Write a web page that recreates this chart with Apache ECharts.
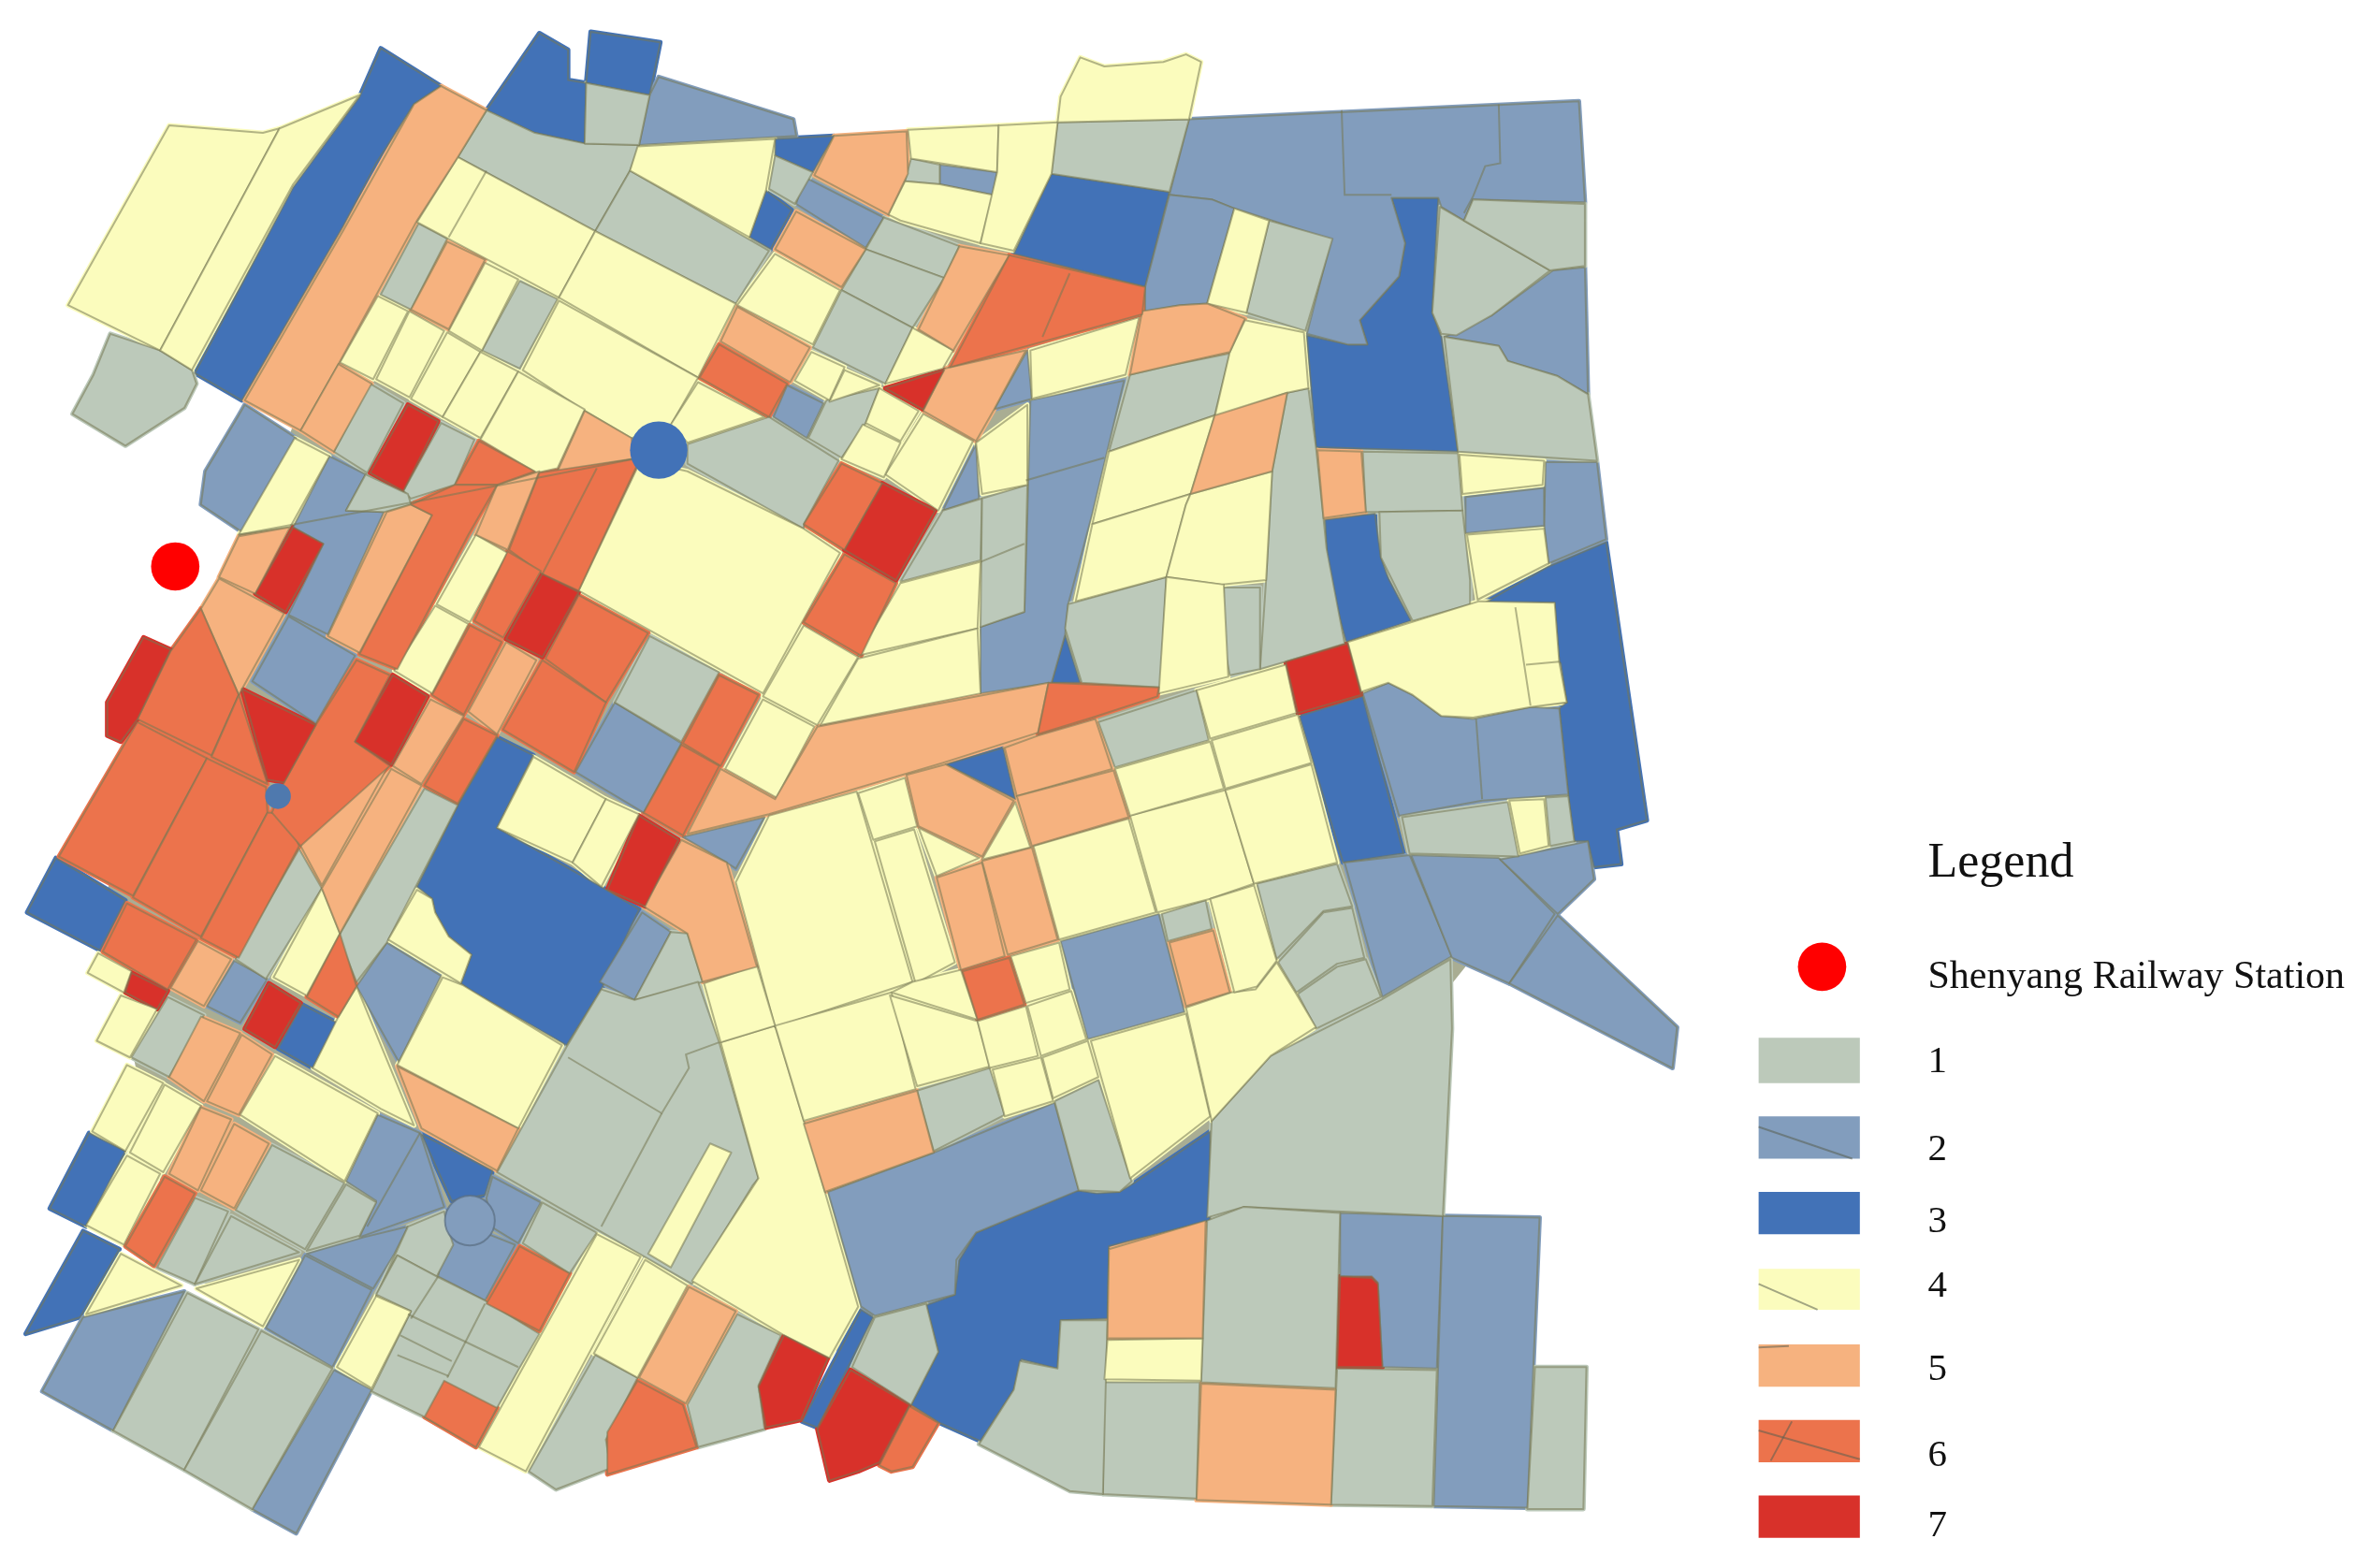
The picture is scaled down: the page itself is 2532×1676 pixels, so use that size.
<!DOCTYPE html>
<html>
<head>
<meta charset="utf-8">
<title>Shenyang Railway Station</title>
<script src="https://cdn.jsdelivr.net/npm/echarts@6/dist/echarts.min.js"></script>
<style>
  html, body { margin: 0; padding: 0; background: #fff; }
  #chart { width: 100vw; height: 100vh; filter: blur(0.7px); }
</style>
</head>
<body>
<div id="chart"></div>
<script>
// block outlines, flat x,y lists in map units, one list per class
const class3 = [
  [252,32,292,57,274,69,249,108,227,150,160,265,129,247,194,124,238,64],
  [357,22,376,33,376,53,388,55,387,95,354,88,322,73],
  [391,21,437,28,430,63,388,55],
  [513,92,552,90,538,114,513,103],
  [507,126,524,139,510,165,496,157],
  [696,115,774,127,758,190,671,168],
  [921,131,952,131,948,207,954,223,965,299,871,296,865,222,892,228,905,228,900,212,926,183,930,161],
  [877,344,910,340,914,369,919,383,934,411,891,425,879,381],
  [1063,359,1090,543,1070,549,1073,572,1055,574,1051,557,1042,557,1038,526,1032,469,1037,465,1032,438,1029,399,983,399,1025,375],
  [860,474,902,461,929,565,889,571],
  [329,488,353,500,329,548,398,587,423,602,398,655,375,692,312,656,305,651,312,632,297,620,288,604,286,595,276,587,303,533],
  [37,568,83,596,66,629,18,604],
  [184,694,200,665,223,677,207,707],
  [59,750,83,762,57,812,33,800],
  [55,815,79,827,53,872,17,883],
  [279,751,326,775,321,791,299,795],
  [696,452,705,420,715,452],
  [626,506,664,495,672,529],
  [570,867,578,872,541,945,531,941],
  [712,788,726,790,741,789,751,783,801,749,801,808,734,825,733,873,702,874,700,906,676,900,671,920,649,954,622,942,603,930,621,895,613,864,632,857,635,834,646,816]
];
const class2 = [
  [436,51,525,79,527,90,423,96,430,63],
  [532,117,585,144,573,164,527,135],
  [622,109,660,114,657,129,622,122],
  [787,79,1045,67,1049,134,975,132,969,146,954,137,952,131,921,131,930,161,926,183,900,212,905,228,892,228,865,221,881,159,842,146,817,138,802,132,774,129],
  [774,129,802,132,817,138,799,201,781,202,758,206,758,190],
  [682,265,744,252,723,340,707,400,705,420,696,452,649,459,649,415,678,405,680,340],
  [680,232,683,264,658,271],
  [646,294,648,330,624,338],
  [521,255,545,267,534,290,512,276],
  [1023,306,1057,306,1063,357,1025,373,1022,347],
  [970,329,1022,323,1022,348,970,353],
  [1028,179,1049,177,1051,261,1031,249,998,239,992,229,956,223,987,209],
  [902,459,919,452,935,460,954,474,975,476,1013,468,1032,469,1038,526,981,530,926,540],
  [890,571,933,566,961,633,915,660],
  [934,566,992,568,1029,605,999,651,961,634],
  [993,569,1051,557,1055,582,1031,605],
  [1031,606,1110,680,1107,707,999,651],
  [162,268,196,290,160,352,133,334,136,312,158,275],
  [218,302,242,314,229,338,254,339,217,420,191,407,214,360,194,349],
  [191,408,235,434,209,479,167,451],
  [407,465,451,492,426,538,381,511],
  [425,604,444,617,420,662,397,650],
  [452,554,506,541,487,575,481,571],
  [256,624,292,646,264,703,236,653],
  [155,636,177,648,159,677,137,666],
  [250,738,278,750,294,799,238,819,249,795,229,782],
  [326,779,358,796,343,823,325,812,322,793],
  [296,801,296,812,304,822,323,817,341,824,321,861,290,845],
  [241,819,270,812,261,830,247,853,203,830],
  [202,831,246,854,220,905,176,879],
  [122,855,75,947,28,921,55,872],
  [221,907,246,920,196,1015,167,999],
  [548,789,618,763,698,730,714,788,646,816,633,834,632,857,579,871,570,865],
  [702,623,767,605,784,670,720,688],
  [887,803,955,805,951,906,915,905,912,849,908,845,887,845],
  [955,805,1019,806,1011,998,949,997]
];
const class1 = [
  [73,221,106,232,127,245,130,254,122,270,83,295,48,274,62,248],
  [322,73,354,88,387,95,423,96,417,113,394,153,303,104],
  [388,55,430,63,423,96,387,95],
  [513,103,538,114,526,135,509,125],
  [603,105,622,109,622,122,599,120],
  [700,81,787,79,774,127,696,115],
  [840,146,882,158,864,219,825,207],
  [585,144,596,148,635,163,625,184,573,165],
  [573,165,625,184,604,217,557,192],
  [557,192,604,217,586,254,538,230],
  [417,113,509,166,487,201,394,153],
  [277,148,296,158,272,205,252,195],
  [344,186,369,198,344,244,319,232],
  [245,254,267,267,243,313,221,299],
  [292,280,314,291,301,321,272,330,267,325],
  [242,314,270,327,272,334,254,339,229,338],
  [455,294,509,276,555,305,532,347,532,350,455,307],
  [582,257,573,280,557,303,535,290,547,265],
  [814,234,804,275,734,299,748,248,774,242],
  [852,260,866,257,871,296,876,343,878,363,890,426,851,438,834,443,838,384,842,312],
  [834,389,834,443,814,447,810,427,810,389],
  [707,400,772,382,768,455,716,452,705,416],
  [624,338,650,330,649,371,596,385],
  [650,330,680,321,678,405,649,415],
  [430,421,476,445,451,491,407,465],
  [198,562,213,588,176,648,156,635],
  [281,522,303,533,256,624,236,650,224,620],
  [444,617,455,618,465,650,420,662],
  [375,693,398,655,420,662,462,650,476,690,502,780,498,785,458,850,397,815,329,776],
  [359,796,395,816,377,843,346,823],
  [111,660,135,672,112,713,87,700],
  [129,793,151,802,129,850,104,839],
  [153,805,198,829,129,850],
  [180,758,228,783,202,827,156,801],
  [229,784,249,796,238,818,203,828],
  [270,812,294,802,297,815,300,824,289,845,263,831,249,858],
  [263,831,289,845,321,861,357,883,343,907,329,932,315,957,279,937,246,921,272,868,249,857],
  [124,856,171,880,122,973,75,947],
  [173,881,220,906,167,999,122,973],
  [394,897,422,912,401,953,404,972,368,986,350,974],
  [488,870,517,884,502,917,506,946,462,958,455,930],
  [579,872,613,863,621,895,603,930,564,905],
  [607,722,655,707,665,738,618,762],
  [698,729,727,715,749,782,741,789,714,788],
  [727,478,792,457,800,490,738,508],
  [769,605,798,596,802,615,773,623],
  [832,585,885,572,895,600,876,603,845,635],
  [846,637,876,604,895,601,903,634,885,638,858,657],
  [859,658,885,640,904,635,914,660,871,681],
  [953,137,1026,179,987,209,964,222,954,221,948,207],
  [969,146,975,132,1049,135,1049,176,1026,179],
  [956,223,992,229,998,239,1031,249,1051,261,1057,305,965,299],
  [902,299,965,300,968,338,911,339,904,339],
  [913,339,968,338,973,384,973,400,935,411,919,379,914,369],
  [1011,442,1033,439,1037,465,1015,467],
  [928,541,998,531,1005,567,933,565],
  [1023,528,1038,527,1042,557,1026,560],
  [802,742,841,699,914,662,960,635,961,681,955,805,888,802,823,799,799,806],
  [799,808,823,799,887,803,884,919,795,915],
  [731,915,794,915,792,992,730,989],
  [702,874,733,874,730,989,708,987,681,973,648,956,671,920,675,901,700,906],
  [885,906,951,907,948,997,881,996],
  [1016,905,1050,905,1048,999,1011,999]
];
const class4 = [
  [112,83,174,88,185,85,106,232,45,202],
  [185,85,238,63,194,122,127,245,106,232],
  [422,97,513,92,507,126,496,157,417,113],
  [601,86,661,83,660,114,603,105],
  [599,120,622,122,657,129,649,161,596,146,588,142],
  [661,83,700,81,696,115,671,166,649,161,660,114],
  [715,38,731,44,770,41,785,36,795,41,787,79,700,81,702,64],
  [817,138,840,146,825,207,799,201],
  [824,212,863,220,866,257,852,260,804,276,814,233],
  [734,299,804,275,788,327,723,347],
  [712,398,772,382,785,334,788,327,723,347],
  [788,327,842,312,838,384,809,387,772,382,785,334],
  [772,382,810,387,813,448,767,459],
  [682,232,754,210,745,248,683,264],
  [513,168,556,192,538,228,488,202],
  [303,104,394,153,370,197,276,147],
  [394,153,487,201,462,250,370,197],
  [370,199,462,250,443,283,418,290,387,272,346,245],
  [321,174,343,185,319,232,297,219],
  [250,196,270,206,247,251,225,240],
  [271,206,294,219,271,263,249,251],
  [296,220,318,233,293,276,272,264],
  [318,233,343,246,318,290,293,276],
  [343,246,387,271,369,310,355,313,318,291],
  [195,290,218,302,192,349,158,354],
  [315,354,336,366,311,412,289,400],
  [288,401,310,413,286,459,261,444],
  [353,501,401,529,379,571,329,548],
  [401,529,423,539,398,587,379,571],
  [424,305,455,312,532,350,556,366,505,459,383,391],
  [532,414,568,435,541,480,505,461],
  [505,463,539,481,514,528,480,509],
  [596,386,649,372,647,416,568,434],
  [568,436,647,416,649,459,543,480],
  [646,293,680,268,680,321,650,327],
  [611,274,644,292,621,338,586,314],
  [571,281,596,293,585,316,557,304],
  [582,257,608,272,596,292,573,280],
  [604,217,631,232,624,244,586,254],
  [537,233,559,243,549,265,526,252],
  [559,245,582,255,549,266],
  [462,253,506,276,455,293,444,281],
  [276,589,286,595,288,604,297,620,312,632,305,651,257,622],
  [293,647,306,652,372,692,343,747,263,705],
  [236,653,274,745,252,734,207,707,224,673],
  [182,699,250,737,228,782,159,738],
  [213,588,225,618,203,659,181,647],
  [65,631,87,643,82,657,58,644],
  [80,659,104,668,86,700,64,689],
  [84,705,108,717,83,762,61,749],
  [109,718,133,732,108,776,86,763],
  [84,765,106,777,82,824,57,811],
  [80,830,120,851,57,870],
  [130,853,198,834,174,878],
  [249,858,272,868,246,919,223,905],
  [395,817,424,832,348,974,317,958],
  [427,834,455,851,422,912,393,896],
  [470,757,484,763,444,839,429,830],
  [477,690,513,679,532,742,546,789,568,865,549,899,519,884,458,848,502,780],
  [509,540,567,524,604,650,513,680,487,584],
  [466,651,501,639,513,679,477,690],
  [568,525,599,515,607,547,578,556],
  [579,557,605,549,632,637,606,651],
  [608,548,648,568,620,580],
  [672,531,682,561,650,569],
  [669,633,701,624,708,655,679,664],
  [604,650,636,642,647,675,590,657],
  [513,679,590,657,606,721,532,742],
  [589,659,647,676,655,706,607,719],
  [647,676,679,666,687,699,655,707],
  [680,666,709,656,719,688,689,699],
  [657,708,689,700,697,729,665,739],
  [690,700,720,689,727,713,697,727],
  [684,560,747,542,765,604,701,622],
  [748,540,811,523,830,585,801,595,766,604],
  [738,509,801,491,810,522,748,540],
  [792,457,851,440,858,472,801,489],
  [802,490,859,473,868,505,811,522],
  [811,523,868,506,885,571,830,585],
  [722,689,785,671,801,739,748,780],
  [785,667,815,657,831,655,845,637,858,658,871,680,841,699,802,742],
  [801,595,830,586,845,636,832,653,817,657],
  [892,425,979,398,1029,399,1032,438,1037,465,1013,468,975,475,954,474,935,460,919,452,901,458],
  [971,354,1022,350,1025,373,978,397],
  [966,301,1022,305,1021,321,968,327],
  [999,530,1022,529,1025,560,1006,565],
  [733,887,796,886,795,914,731,913]
];
const class5 = [
  [292,57,322,73,303,104,276,146,224,241,199,285,162,265,227,153,274,69],
  [224,241,246,254,221,299,199,285],
  [552,90,600,87,601,115,588,142,539,116],
  [527,140,573,165,557,190,513,165],
  [781,202,799,201,824,211,814,233,774,242,748,248,756,206],
  [804,275,852,260,842,312,788,327],
  [679,232,658,271,646,292,611,272,625,244],
  [635,163,668,169,631,232,608,218],
  [488,203,536,230,523,253,477,226],
  [296,160,321,172,297,218,272,205],
  [387,272,418,290,419,304,369,312],
  [158,355,192,349,169,393,145,382],
  [145,383,188,406,158,460,133,403],
  [256,339,272,334,286,341,238,432,217,421],
  [329,321,357,312,336,364,315,354],
  [335,425,355,437,329,486,310,471],
  [285,463,307,474,279,519,260,507],
  [232,496,257,507,213,586,199,560],
  [259,509,279,520,225,618,213,588],
  [131,623,153,635,135,666,113,654],
  [133,673,159,684,135,729,112,713],
  [160,685,180,698,158,738,137,729],
  [133,733,153,741,131,788,112,777],
  [155,744,178,757,155,800,133,788],
  [263,706,343,747,329,775,279,747],
  [456,852,487,868,454,929,423,912],
  [426,600,451,556,481,571,501,640,465,650,455,618],
  [541,481,694,452,687,485,624,505,509,539,455,552,477,509,513,529],
  [687,487,725,476,736,509,673,527,665,495],
  [673,527,737,510,747,541,683,560],
  [600,513,626,506,671,530,650,567,608,547],
  [620,581,650,571,665,633,636,642],
  [650,570,683,561,700,622,667,632],
  [774,624,803,616,814,657,785,666],
  [532,744,607,722,618,763,546,789],
  [872,298,901,299,904,339,876,343],
  [734,827,798,808,796,886,733,886],
  [795,916,884,920,881,996,792,993]
];
const class6 = [
  [668,169,758,190,756,208,629,243],
  [476,228,521,254,509,276,463,250],
  [317,292,354,312,329,321,301,321],
  [272,334,301,321,329,321,310,354,263,443,238,433,286,341],
  [357,313,424,303,383,391,359,380,337,364],
  [336,365,358,378,333,422,314,411],
  [383,394,429,419,401,465,361,436],
  [359,437,401,465,380,511,333,483],
  [311,414,332,425,307,473,286,460],
  [307,476,329,487,303,532,281,520],
  [476,447,502,460,477,507,452,492],
  [451,493,476,507,452,553,426,538],
  [133,403,158,460,140,500,91,476,113,431],
  [158,460,177,519,140,501],
  [91,478,137,502,88,593,39,567],
  [137,502,176,521,177,538,133,620,88,594],
  [177,538,188,538,198,560,158,634,133,621],
  [236,437,258,447,235,491,258,507,199,560,180,538,188,518,209,480],
  [84,598,130,622,111,655,68,630],
  [225,618,236,653,224,673,203,660],
  [109,779,129,790,102,838,83,825],
  [344,825,377,843,357,881,322,863],
  [294,914,329,932,315,958,281,938],
  [422,914,452,930,461,958,402,976,402,948],
  [559,367,593,386,570,434,532,412],
  [557,307,584,320,559,364,532,347],
  [694,452,767,455,766,461,723,475,687,486],
  [637,643,668,634,678,665,647,675],
  [602,931,621,942,604,971,590,974,582,970]
];
const class7 = [
  [270,268,290,279,267,325,245,313],
  [586,257,625,245,611,271],
  [584,320,619,338,593,384,559,364],
  [194,349,214,360,189,405,169,393],
  [95,422,113,430,91,476,80,491,71,487,71,465],
  [160,456,209,480,188,518,177,516],
  [260,447,283,461,259,506,235,491],
  [359,380,383,392,359,435,335,423],
  [423,540,449,556,427,600,402,589],
  [87,644,111,656,104,668,83,657],
  [178,651,199,664,182,693,162,681],
  [851,438,892,426,901,460,859,472],
  [519,884,548,899,530,940,507,945,502,918],
  [563,907,602,930,582,968,568,974,549,980,541,946],
  [887,845,908,846,912,850,915,905,885,905]
];
// rough inner outline of the district, sits under the blocks so no white shows between them
const footprint = [[300,110,420,100,700,90,1040,140,1050,350,1040,550,960,650,950,800,640,900,560,890,420,950,350,960,240,900,120,840,90,700,70,600,100,480,170,350,200,270]];
// inner boundaries that do not close a block
const boundaries = [
  [888,73,890,129,921,129],
  [992,69,993,108,983,110,975,130,969,141],
  [679,318,731,303],
  [649,372,678,360],
  [708,181,690,223],
  [322,113,297,157],
  [419,304,276,332,158,354],
  [395,310,359,380],
  [476,690,454,698,456,707,438,737,376,700],
  [438,737,398,812],
  [278,750,243,812],
  [270,870,343,905],
  [265,884,299,901],
  [263,897,297,911],
  [290,845,272,873],
  [321,863,296,912],
  [1003,402,1013,467],
  [1010,440,1032,438],
  [977,476,981,529]
];
const roundabouts = [[436,298],[311,808]];
const minorRoundabouts = [[184,527]];
const stationPoint = [[116,375],[1206,640]];

const legendLabels = ['1','2','3','4','5','6','7'];
const legendTops = [687,739,789,840,890,940,990];
const legendBottoms = [717,767,817,867,918,968,1018];
const legendTextY = [703,761,809,852,907,964,1010];
const legendMarks = [
  [1164,746,1226,767],
  [1164,850,1203,867],
  [1164,892,1184,891],
  [1164,947,1231,966],
  [1186,941,1172,967]
];

const MAP_W = 1568, MAP_H = 1038;
const classColors = { 1:'#bcc9ba', 2:'#829dbd', 3:'#4272b7', 4:'#fbfcbd', 5:'#f6b27f', 6:'#ec734c', 7:'#d8312a' };
const edgeColor = 'rgba(118,120,84,0.55)';
const allClasses = [[3,class3],[2,class2],[1,class1],[4,class4],[5,class5],[6,class6],[7,class7]];

function flatPoints(flat, api) {
  const pts = [];
  for (let i = 0; i < flat.length; i += 2) pts.push(api.coord([flat[i], flat[i + 1]]));
  return pts;
}

// halo=true paints the block a little larger in its own colour so neighbours meet
function blockSeries(name, polys, fill, halo) {
  return {
    type: 'custom', name, silent: true, clip: false,
    data: polys.map((p, i) => [i]),
    renderItem(params, api) {
      return {
        type: 'polygon',
        shape: { points: flatPoints(polys[params.dataIndex], api) },
        style: halo
          ? { fill, stroke: fill, lineWidth: 5, lineJoin: 'round' }
          : { fill, stroke: edgeColor, lineWidth: 2, lineJoin: 'round' }
      };
    }
  };
}

function lineSeries(lines, stroke, lineWidth) {
  return {
    type: 'custom', silent: true, clip: false,
    data: lines.map((p, i) => [i]),
    renderItem(params, api) {
      return {
        type: 'polyline',
        shape: { points: flatPoints(lines[params.dataIndex], api) },
        style: { fill: 'none', stroke, lineWidth }
      };
    }
  };
}

function textSeries(name, x, y, fontSize) {
  return {
    type: 'scatter', symbolSize: 0, silent: true,
    data: [{ name, value: [x, y] }],
    itemStyle: { opacity: 1 },
    label: { show: true, position: 'right', distance: 0, formatter: '{b}',
      fontFamily: 'Liberation Serif', fontSize, color: '#111', opacity: 1 }
  };
}

const chart = echarts.init(document.getElementById('chart'), null, { renderer: 'canvas' });
const unit = chart.getWidth() / MAP_W;

chart.setOption({
  animation: false,
  backgroundColor: '#fff',
  grid: { left: 0, right: 0, top: 0, bottom: 0 },
  xAxis: { type: 'value', min: 0, max: MAP_W, show: false },
  yAxis: { type: 'value', min: 0, max: MAP_H, inverse: true, show: false },
  series: [
    blockSeries('footprint', footprint, '#a9ad93', true),
    ...allClasses.map(([c, polys]) => blockSeries('halo' + c, polys, classColors[c], true)),
    ...allClasses.map(([c, polys]) => blockSeries(String(c), polys, classColors[c], false)),
    lineSeries(boundaries, edgeColor, 2),
    { type: 'scatter', data: [roundabouts[0]], symbolSize: 38 * unit, silent: true,
      itemStyle: { color: classColors[3], opacity: 1 } },
    { type: 'scatter', data: [roundabouts[1]], symbolSize: 33 * unit, silent: true,
      itemStyle: { color: classColors[2], borderColor: 'rgba(90,110,130,0.7)', borderWidth: 2, opacity: 1 } },
    { type: 'scatter', data: minorRoundabouts, symbolSize: 17 * unit, silent: true,
      itemStyle: { color: '#4f79ae', opacity: 1 } },
    { type: 'scatter', data: stationPoint, symbolSize: 32 * unit, silent: true,
      itemStyle: { color: '#ff0000', opacity: 1 } },
    // legend swatches
    {
      type: 'custom', silent: true, clip: false,
      data: legendLabels.map((l, i) => [i]),
      renderItem(params, api) {
        const i = params.dataIndex;
        const a = api.coord([1164, legendTops[i]]);
        const b = api.coord([1231, legendBottoms[i]]);
        return {
          type: 'rect',
          shape: { x: a[0], y: a[1], width: b[0] - a[0], height: b[1] - a[1] },
          style: { fill: classColors[i + 1] }
        };
      }
    },
    lineSeries(legendMarks, 'rgba(90,95,80,0.55)', 2),
    {
      type: 'scatter', symbolSize: 0, silent: true,
      data: legendLabels.map((l, i) => ({ name: l, value: [1276, legendTextY[i]] })),
      itemStyle: { opacity: 1 },
      label: { show: true, position: 'right', distance: 0, formatter: '{b}',
        fontFamily: 'Liberation Serif', fontSize: 41, color: '#111', opacity: 1 }
    },
    textSeries('Legend', 1276, 572, 52),
    textSeries('Shenyang Railway Station', 1276, 647, 42)
  ]
});
</script>
</body>
</html>
